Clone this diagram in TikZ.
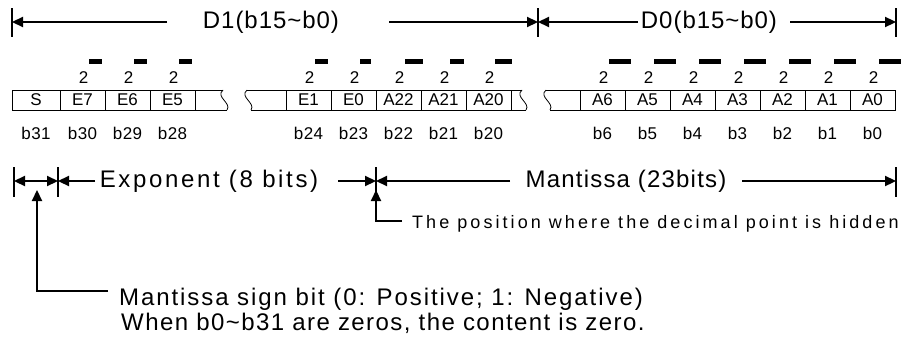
\documentclass[tikz,border=0pt]{standalone}
\usepackage{fontspec}
\setmainfont{Liberation Sans}
\usetikzlibrary{arrows.meta,positioning}

\tikzset{
  txtbig/.style={inner sep=0pt,font=\fontsize{24}{28}\selectfont\addfontfeature{LetterSpace=#1}},
  txtbig/.default=6,
  txtcell/.style={inner sep=0pt,font=\fontsize{17}{19}\selectfont},
  txtbit/.style={inner sep=0pt,font=\fontsize{17}{19}\selectfont\addfontfeature{LetterSpace=2}},
  txtnote/.style={inner sep=0pt,font=\fontsize{18}{20}\selectfont\addfontfeature{LetterSpace=17}},
  cellbox/.style={draw,line width=0.8pt,minimum width=45pt,minimum height=20pt,txtcell},
  boxline/.style={line width=0.8pt},
  endbar/.style={line width=2.6pt},
  thickarr/.style={line width=2.2pt,-{Triangle[length=11pt,width=10pt]}},
  dblarr/.style={line width=2.2pt,{Triangle[length=11pt,width=10pt]}-{Triangle[length=11pt,width=10pt]}},
}

\begin{document}
\begin{tikzpicture}[x=1pt,y=-1pt]
\useasboundingbox (0,0) rectangle (909,340);

% Word spans D1 and D0 on top.
\foreach \x in {12,538,896}
  \draw[endbar] (\x,8) -- (\x,37);
\node[txtbig=4] (dhi) at (271,22) {D1(b15\textasciitilde b0)};
\node[txtbig=4] (dlo) at (709,22) {D0(b15\textasciitilde b0)};
\coordinate (top0) at (12,22);
\coordinate (top1) at (538,22);
\coordinate (top2) at (896,22);
\coordinate (dhiL) at (167,22);
\coordinate (dhiR) at (389,22);
\coordinate (dloL) at (638,22);
\coordinate (dloR) at (790,22);
\draw[thickarr] (dhiL) -- (top0);
\draw[thickarr] (dhiR) -- (top1);
\draw[thickarr] (dloL) -- (top1);
\draw[thickarr] (dloR) -- (top2);

% Bit cells, with the weights 2^- above and the bit numbers below.
\node[cellbox,minimum width=48pt] (c31) at (36,100) {S};
\node[txtbit] (b31) at (36,133) {b31};
\foreach \nm/\cx/\bit/\w in {E7/82.5/30/13, E6/127.5/29/13, E5/172.5/28/13,
    E1/308.5/24/13, E0/353.5/23/11, A22/398.5/22/18, A21/443.5/21/14,
    A20/488.5/20/17, A6/602.5/6/22, A5/647.5/5/22, A4/692.5/4/22,
    A3/737.5/3/22, A2/782.5/2/22, A1/827.5/1/22, A0/872.5/0/22} {
  \node[cellbox] (c\bit) at (\cx,100) {\nm};
  \node[txtbit] (b\bit) at (\cx,133) {b\bit};
  \node[txtcell] (p\bit) at (\cx+1,78) {2};
  \fill (\cx+6,58.5) rectangle ++(\w,5);
}

% Broken cells.
\draw[boxline] (195,90) -- (223,90) (195,110) -- (227,110);
\draw[boxline] (247,90) -- (286,90) (251,110) -- (286,110);
\draw[boxline] (511,90) -- (522,90) (511,110) -- (526,110);
\draw[boxline] (546,90) -- (580,90) (550,110) -- (580,110);
\foreach \x in {223,247,522,546}
  \draw[boxline] (\x,90) .. controls (\x-8,97) and (\x+9,103) .. (\x+4,110);

% Sign, exponent and mantissa spans.
\foreach \x in {14,58,376,896}
  \draw[endbar] (\x,167) -- (\x,197);
\coordinate (sg0) at (14,181);
\coordinate (sg1) at (58,181);
\coordinate (dp) at (376,181);
\coordinate (mt1) at (896,181);
\node[txtbig=11] (expo) at (209,181) {Exponent (8 bits)};
\node[txtbig=5] (mant) at (626,181) {Mantissa (23bits)};
\coordinate (expoL) at (95,181);
\coordinate (expoR) at (338,181);
\coordinate (mantL) at (510,181);
\coordinate (mantR) at (742,181);
\draw[dblarr] (sg0) -- (sg1);
\draw[thickarr] (expoL) -- (sg1);
\draw[thickarr] (expoR) -- (dp);
\draw[thickarr] (mantL) -- (dp);
\draw[thickarr] (mantR) -- (mt1);

% Pointers to the hidden point and to the sign bit.
\coordinate (dptip) at (376,190);
\coordinate (dpc) at (402,221);
\draw[thickarr] (dpc) -| (dptip);
\node[txtnote,anchor=base west] (hid) at (412,228)
  {The position where the decimal point is hidden};

\coordinate (sgtip) at (37,190);
\coordinate (sgc) at (108,291);
\draw[thickarr] (sgc) -| (sgtip);
\node[txtbig=8,anchor=base west] (sgnA) at (119,305)
  {Mantissa sign bit (0: Positive; 1: Negative)};
\node[txtbig=6,anchor=base west] (sgnB) at (121,330)
  {When b0\textasciitilde b31 are zeros, the content is zero.};

\end{tikzpicture}
\end{document}
